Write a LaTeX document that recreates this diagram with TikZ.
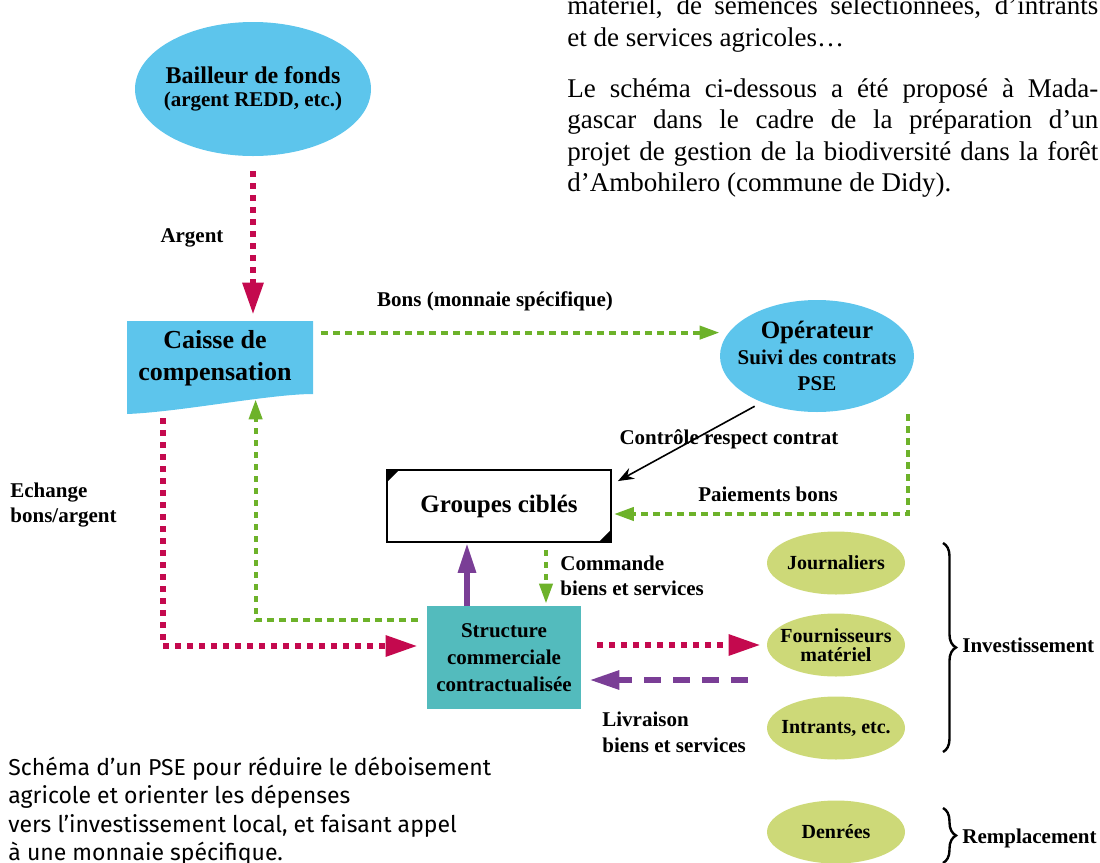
\documentclass[tikz,border=0pt]{standalone}
\usepackage{fontspec}
\setmainfont{Liberation Serif}
\newfontfamily\capfont{Fira Sans}
\usetikzlibrary{arrows.meta,shapes.geometric,decorations.pathreplacing,calc}
\definecolor{skyb}{HTML}{5DC5EC}
\definecolor{tealb}{HTML}{53BBBD}
\definecolor{lime}{HTML}{CDD978}
\definecolor{grn}{HTML}{6DB22A}
\definecolor{crim}{HTML}{C4094E}
\definecolor{purp}{HTML}{7A3E96}
\begin{document}
\begin{tikzpicture}[x=0.5pt,y=-0.5pt,
  body/.style={anchor=base west,inner sep=0pt,font=\fontsize{13.5}{15.6}\selectfont},
  lbl/.style={font=\bfseries\fontsize{10.5}{12.5}\selectfont,inner sep=0pt},
  bluell/.style={ellipse,fill=skyb,inner sep=0pt},
  limell/.style={ellipse,fill=lime,inner sep=0pt,minimum width=69pt,minimum height=31.5pt},
  limtxt/.style={align=center,inner sep=0pt,font=\bfseries\fontsize{10}{9.5}\selectfont},
  reddot/.style={draw=crim,line width=3pt,dash pattern=on 3pt off 3pt,-{Triangle[length=16pt,width=10pt]}},
  greendot/.style={draw=grn,line width=2pt,dash pattern=on 3.2pt off 2.8pt,-{Triangle[length=10pt,width=6.5pt]}},
  purpdash/.style={draw=purp,line width=3pt,dash pattern=on 8.5pt off 6pt,-{Triangle[length=15pt,width=9pt]}},
  purpsolid/.style={draw=purp,line width=3pt,-{Triangle[length=15pt,width=8.5pt]}},
  ctl/.style={draw=black,line width=0.8pt,-{Stealth[length=8pt,width=6pt]}},
  brc/.style={draw=black,line width=1.2pt,decorate,decoration={brace,amplitude=6.5pt}},
  capl/.style={anchor=base west,inner sep=0pt,font=\capfont\fontsize{11.5}{14}\selectfont}]
\useasboundingbox (0,0) rectangle (1100,863);
\begin{scope}
\clip (0,0) rectangle (1100,863);
% running text
\node[body] (t1) at (567,14) {\makebox[265.5pt][s]{matériel, de semences sélectionnées, d’intrants}};
\node[body] (t2) at (567,46) {et de services agricoles…};
\node[body] (t3) at (567,97) {\makebox[265.5pt][s]{Le schéma ci-dessous a été proposé à Mada-}};
\node[body] (t4) at (567,128) {\makebox[265.5pt][s]{gascar dans le cadre de la préparation d’un}};
\node[body] (t5) at (567,160) {\makebox[265.5pt][s]{projet de gestion de la biodiversité dans la forêt}};
\node[body] (t6) at (567,191) {d’Ambohilero (commune de Didy).};

% caisse shape
\fill[skyb] (127,321) -- (313,321) -- (313,394) .. controls (270,394) and (180,412) .. (127,414) -- cycle;
\node[minimum width=93pt,minimum height=46.5pt,inner sep=0pt] (caisse) at (220,367.5) {};
\node[font=\bfseries\fontsize{13}{16}\selectfont,align=center,inner sep=0pt] (caissetxt) at (215,358) {Caisse de\\compensation};

% blue ellipses
\node[bluell,minimum width=118pt,minimum height=67pt,
  label={[name=bailleurtxt,align=center,inner sep=0pt]center:{{\bfseries\fontsize{12}{12}\selectfont Bailleur de fonds}\\[-0.5pt]{\bfseries\fontsize{10.5}{12}\selectfont (argent REDD, etc.)}}}] (bailleur) at (253,89) {};
\node[bluell,minimum width=97pt,minimum height=56pt,
  label={[name=operateurtxt,align=center,inner sep=0pt,font=\bfseries\fontsize{10.5}{13.2}\selectfont]center:{{\fontsize{12.5}{13.2}\selectfont Opérateur}\\Suivi des contrats\\PSE}}] (operateur) at (817,356) {};

% groupes
\node[draw=black,line width=0.9pt,fill=white,minimum width=112pt,minimum height=36pt,inner sep=0pt,font=\bfseries\fontsize{12.5}{14}\selectfont] (groupes) at (499,506) {Groupes ciblés};
\fill[black] (groupes.north west) -- ++(7pt,0) -- ++(-7pt,-7pt) -- cycle;
\fill[black] (groupes.south east) -- ++(-7pt,0) -- ++(7pt,7pt) -- cycle;

% structure
\node[fill=tealb,minimum width=77pt,minimum height=51.5pt,inner sep=0pt,align=center,font=\bfseries\fontsize{10.5}{13.5}\selectfont] (structure) at (504,657.5) {Structure\\commerciale\\contractualisée};

% green ellipses
\node[limell,label={[name=journtxt,limtxt]center:Journaliers}] (journ) at (836,563) {};
\node[limell,label={[name=fourntxt,limtxt]center:{Fournisseurs\\matériel}}] (fourn) at (836,645) {};
\node[limell,label={[name=intrtxt,limtxt]center:{Intrants, etc.}}] (intr) at (836,728) {};
\node[limell,label={[name=denrtxt,limtxt]center:Denrées}] (denr) at (836,832) {};

% connectors
\draw[reddot,shorten <=7.5pt,shorten >=3pt] (bailleur.south) -- (bailleur.south |- caisse.north);
\coordinate (bonsA) at ([xshift=4pt,yshift=-6pt]caisse.north east);
\draw[greendot] (bonsA) -- (bonsA -| operateur.west);
\draw[ctl,shorten <=4pt] (operateur.220) -- ([shift={(3pt,-6pt)}]groupes.north east);
\draw[greendot,shorten <=1pt,shorten >=1pt] ([xshift=45.5pt]operateur.south) |- ([yshift=-4pt]groupes.east);
\draw[reddot,shorten <=2pt,shorten >=4.5pt] ([xshift=18pt]caisse.south west) |- ([yshift=5.75pt]structure.west);
\draw[greendot,shorten <=4.5pt] ([yshift=18.75pt]structure.west) -| ([xshift=64.5pt,yshift=7.5pt]caisse.south west);
\draw[purpsolid] ([xshift=-18.5pt]structure.north) -- ([xshift=-18.5pt]structure.north |- groupes.south);
\draw[greendot,shorten <=3.5pt,shorten >=1pt] ([xshift=23.5pt]groupes.south) -- ([xshift=23.5pt]groupes.south |- structure.north);
\draw[reddot,shorten <=8pt,shorten >=3pt] (structure.east |- fourn.west) -- (fourn.west);
\coordinate (livA) at ([shift={(-9.5pt,-17.5pt)}]fourn.west);
\draw[purpdash,shorten >=4pt] (livA) -- (structure.east |- livA);

% labels
\node[lbl] (argentlbl) at (192,238) {Argent};
\node[lbl] (bonslbl) at (495,301) {Bons (monnaie spécifique)};
\node[lbl] (ctllbl) at (729,439) {Contrôle respect contrat};
\node[lbl] (paielbl) at (768,494) {Paiements bons};
\node[lbl,anchor=west,align=left] (echlbl) at (10,505.5) {Echange\\bons/argent};
\node[lbl,anchor=west,align=left] (cmdlbl) at (560,576) {Commande\\biens et services};
\node[lbl,anchor=west,align=left,font=\bfseries\fontsize{10.5}{13}\selectfont] (livlbl) at (602,732.5) {Livraison\\biens et services};

% braces
\coordinate (b1t) at (943,543);
\coordinate (b1b) at (943,752);
\draw[brc] (b1t) -- (b1b);
\node[lbl,anchor=west] (invlbl) at (962,645) {Investissement};
\coordinate (b2t) at (943,808);
\coordinate (b2b) at (943,863);
\draw[brc] (b2t) -- (b2b);
\node[lbl,anchor=west] (remlbl) at (962,838) {Remplacement};

% caption
\node[capl] (c1) at (8,775) {Schéma d’un PSE pour réduire le déboisement};
\node[capl] (c2) at (8,803) {agricole et orienter les dépenses};
\node[capl] (c3) at (8,832) {vers l’investissement local, et faisant appel};
\node[capl] (c4) at (8,860) {à une monnaie spécifique.};
\end{scope}
\end{tikzpicture}
\end{document}
